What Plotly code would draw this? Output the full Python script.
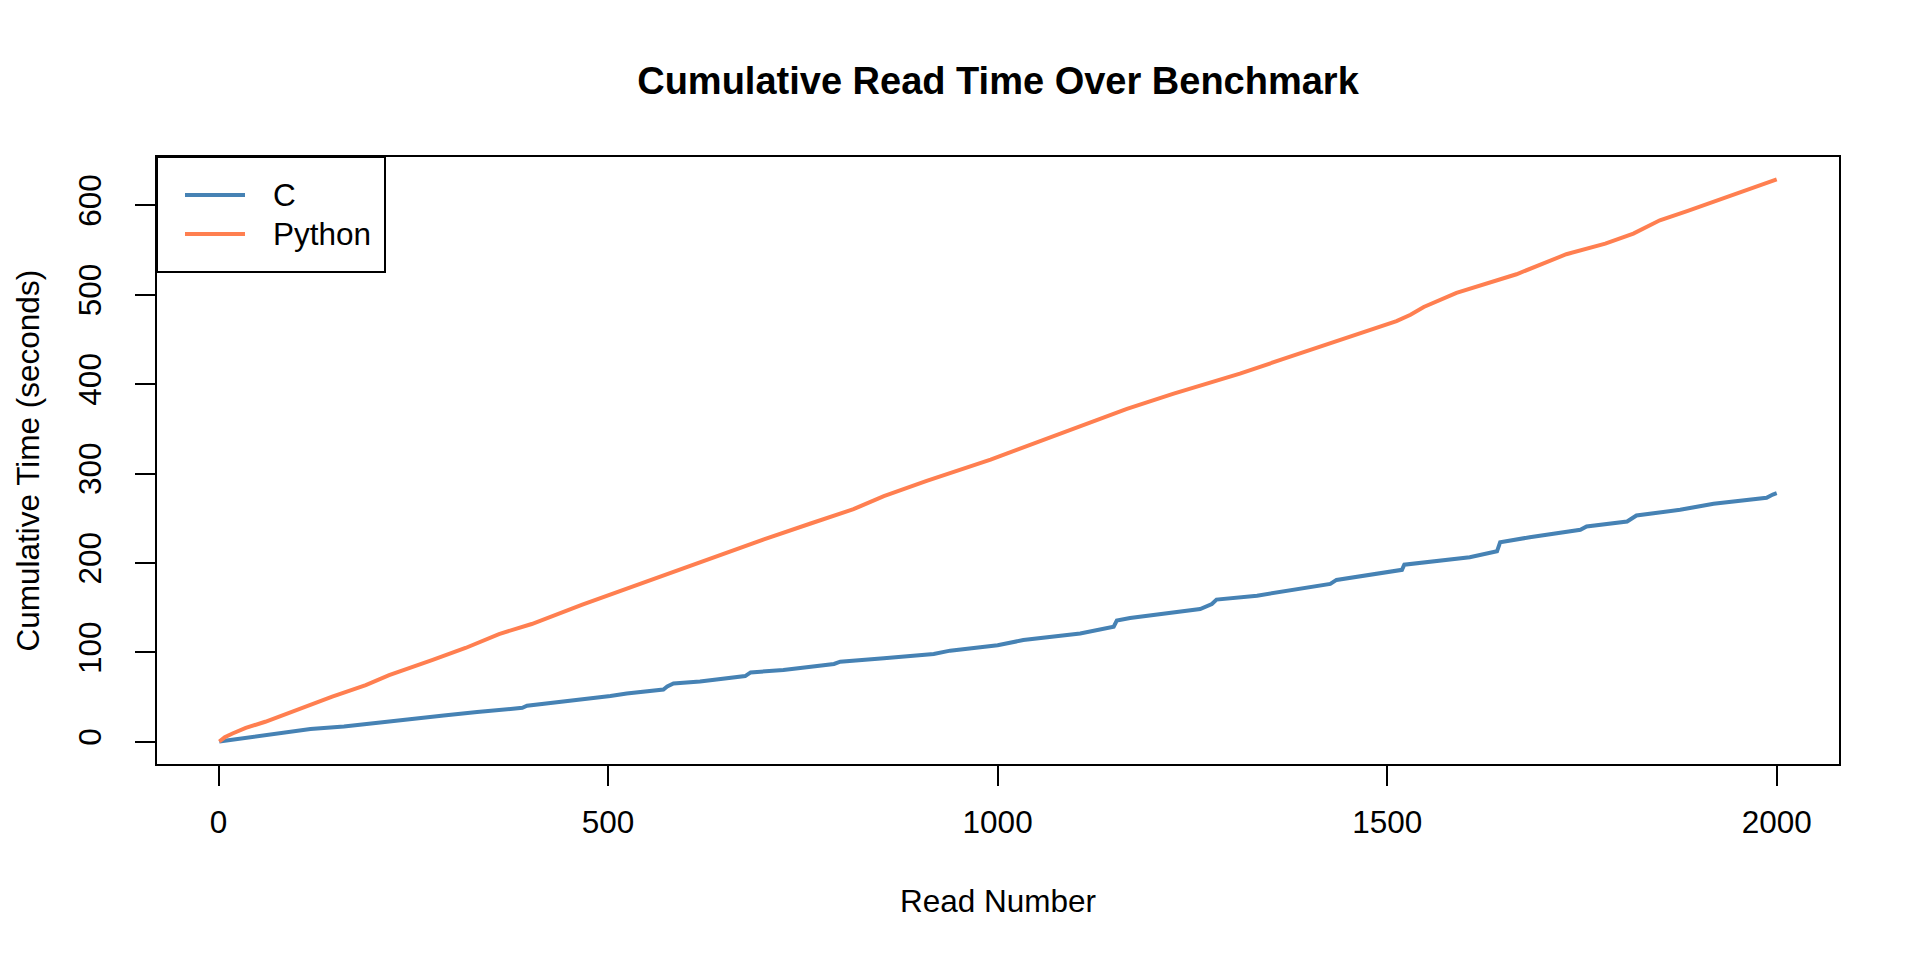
import plotly.graph_objects as go

# ---- data ----
c_reads = [1, 32, 75, 118, 161, 204, 246, 289, 332, 375, 390, 396, 417, 460, 503,
           524, 571, 576, 584, 618, 676, 683, 725, 790, 798, 854, 918, 939, 982,
           1000, 1033, 1106, 1149, 1153, 1170, 1260, 1275, 1281, 1333, 1375, 1427,
           1435, 1482, 1519, 1522, 1606, 1641, 1645, 1683, 1748, 1756, 1808, 1820,
           1876, 1919, 1987, 1995, 2000]
c_cum = [0.3, 4.0, 8.6, 14.2, 17.1, 21.6, 25.0, 29.5, 33.2, 36.2, 38.0, 40.3, 42.2,
         47.0, 51.1, 54.1, 58.5, 62.0, 65.3, 67.5, 73.5, 77.6, 80.3, 87.0, 89.6,
         93.3, 98.2, 101.9, 105.6, 108.0, 113.8, 121.0, 128.7, 135.5, 138.5, 148.5,
         154.1, 159.0, 163.4, 169.0, 176.5, 181.0, 187.7, 192.3, 198.1, 206.3,
         213.0, 223.1, 228.7, 237.0, 240.7, 246.3, 253.0, 259.4, 266.1, 272.8,
         276.5, 278.0]

py_reads = [1, 8, 18, 35, 60, 103, 146, 189, 219, 274, 317, 360, 402, 467, 531, 595,
            663, 700, 760, 815, 854, 909, 991, 1059, 1110, 1166, 1226, 1294, 1311,
            1363, 1393, 1440, 1452, 1512, 1530, 1547, 1589, 1630, 1666, 1730, 1780,
            1816, 1850, 1885, 1923, 1960, 2000]
py_cum = [0.3, 5.0, 9.3, 15.5, 22.4, 36.6, 50.4, 63.4, 74.6, 91.4, 104.9, 120.5,
          131.7, 153.4, 173.5, 193.3, 214.6, 226.4, 244.1, 260.1, 274.7, 291.7,
          315.5, 337.6, 354.6, 372.3, 389.3, 407.3, 411.6, 427.0, 435.8, 449.7,
          453.7, 470.5, 477.5, 486.2, 501.9, 512.5, 522.8, 545.2, 557.0, 568.3,
          583.2, 593.5, 604.8, 616.5, 628.8]

x_ticks = [0, 500, 1000, 1500, 2000]
y_ticks = [0, 100, 200, 300, 400, 500, 600]
series_names = ["C", "Python"]
series_colors = ["#4682B4", "#FF7F50"]

title_text = "Cumulative Read Time Over Benchmark"
x_title = "Read Number"
y_title = "Cumulative Time (seconds)"

# ---- R-style 4% padded ranges ----
xmin, xmax = min(c_reads + py_reads), max(c_reads + py_reads)
ymin, ymax = min(c_cum + py_cum), max(c_cum + py_cum)
xpad = 0.04 * (xmax - xmin)
ypad = 0.04 * (ymax - ymin)

FONT = "Liberation Sans, Arial, sans-serif"
FS = 31.5
LW = 4

fig = go.Figure()
fig.add_trace(go.Scatter(x=c_reads, y=c_cum, mode="lines", name=series_names[0],
                         line=dict(color=series_colors[0], width=LW)))
fig.add_trace(go.Scatter(x=py_reads, y=py_cum, mode="lines", name=series_names[1],
                         line=dict(color=series_colors[1], width=LW)))

axis_common = dict(showgrid=False, zeroline=False, showline=True, mirror=True,
                   linecolor="black", linewidth=2, ticks="outside", ticklen=20,
                   tickwidth=2, tickcolor="black",
                   tickfont=dict(family=FONT, size=FS, color="black"))

fig.update_xaxes(range=[xmin - xpad, xmax + xpad], tickvals=x_ticks,
                 ticktext=[str(v) for v in x_ticks], ticklabelstandoff=9,
                 **axis_common)
fig.update_yaxes(range=[ymin - ypad, ymax + ypad], tickvals=y_ticks,
                 ticktext=[str(v) for v in y_ticks], tickangle=-90,
                 ticklabelstandoff=21, **axis_common)

# plot area geometry (in pixels of the 1920x960 page; page body adds an 8px offset)
PL, PT, PW, PH = 157, 157, 1682, 607
OFF = 8


def px(xp):
    return (xp - PL) / PW


def py(yp):
    return (PT + PH - yp) / PH


# manual R-style legend (box, line samples, labels)
shapes = [dict(type="rect", xref="paper", yref="paper", x0=px(157), x1=px(385),
               y0=py(272), y1=py(157), line=dict(color="black", width=2),
               fillcolor="white", layer="above")]
annotations = [
    dict(text=x_title, xref="paper", yref="paper", x=0.5, y=py(901),
         xanchor="center", yanchor="middle", showarrow=False,
         font=dict(family=FONT, size=FS, color="black")),
    dict(text=y_title, xref="paper", yref="paper", x=px(27), y=0.5,
         xanchor="center", yanchor="middle", textangle=-90, showarrow=False,
         font=dict(family=FONT, size=FS, color="black")),
]
for name, color, yrow in zip(series_names, series_colors, [195, 234]):
    shapes.append(dict(type="line", xref="paper", yref="paper", x0=px(185), x1=px(245),
                       y0=py(yrow), y1=py(yrow), line=dict(color=color, width=LW),
                       layer="above"))
    annotations.append(dict(text=name, xref="paper", yref="paper", x=px(271), y=py(yrow),
                            xanchor="left", yanchor="middle", showarrow=False,
                            font=dict(family=FONT, size=FS, color="black")))

fig.update_layout(
    width=1920, height=960,
    margin=dict(l=PL - OFF, r=1920 - PL - PW + OFF, t=PT - OFF, b=960 - PT - PH + OFF,
                autoexpand=False),
    paper_bgcolor="white", plot_bgcolor="white",
    font=dict(family=FONT, size=FS, color="black"),
    title=dict(text="<b>" + title_text + "</b>", x=0.5, xref="paper", xanchor="center",
               y=1 - (81 - OFF) / 960, yref="container", yanchor="middle",
               font=dict(family=FONT, size=38, color="black")),
    showlegend=False,
    shapes=shapes,
    annotations=annotations,
)

fig.write_html("out.html")
